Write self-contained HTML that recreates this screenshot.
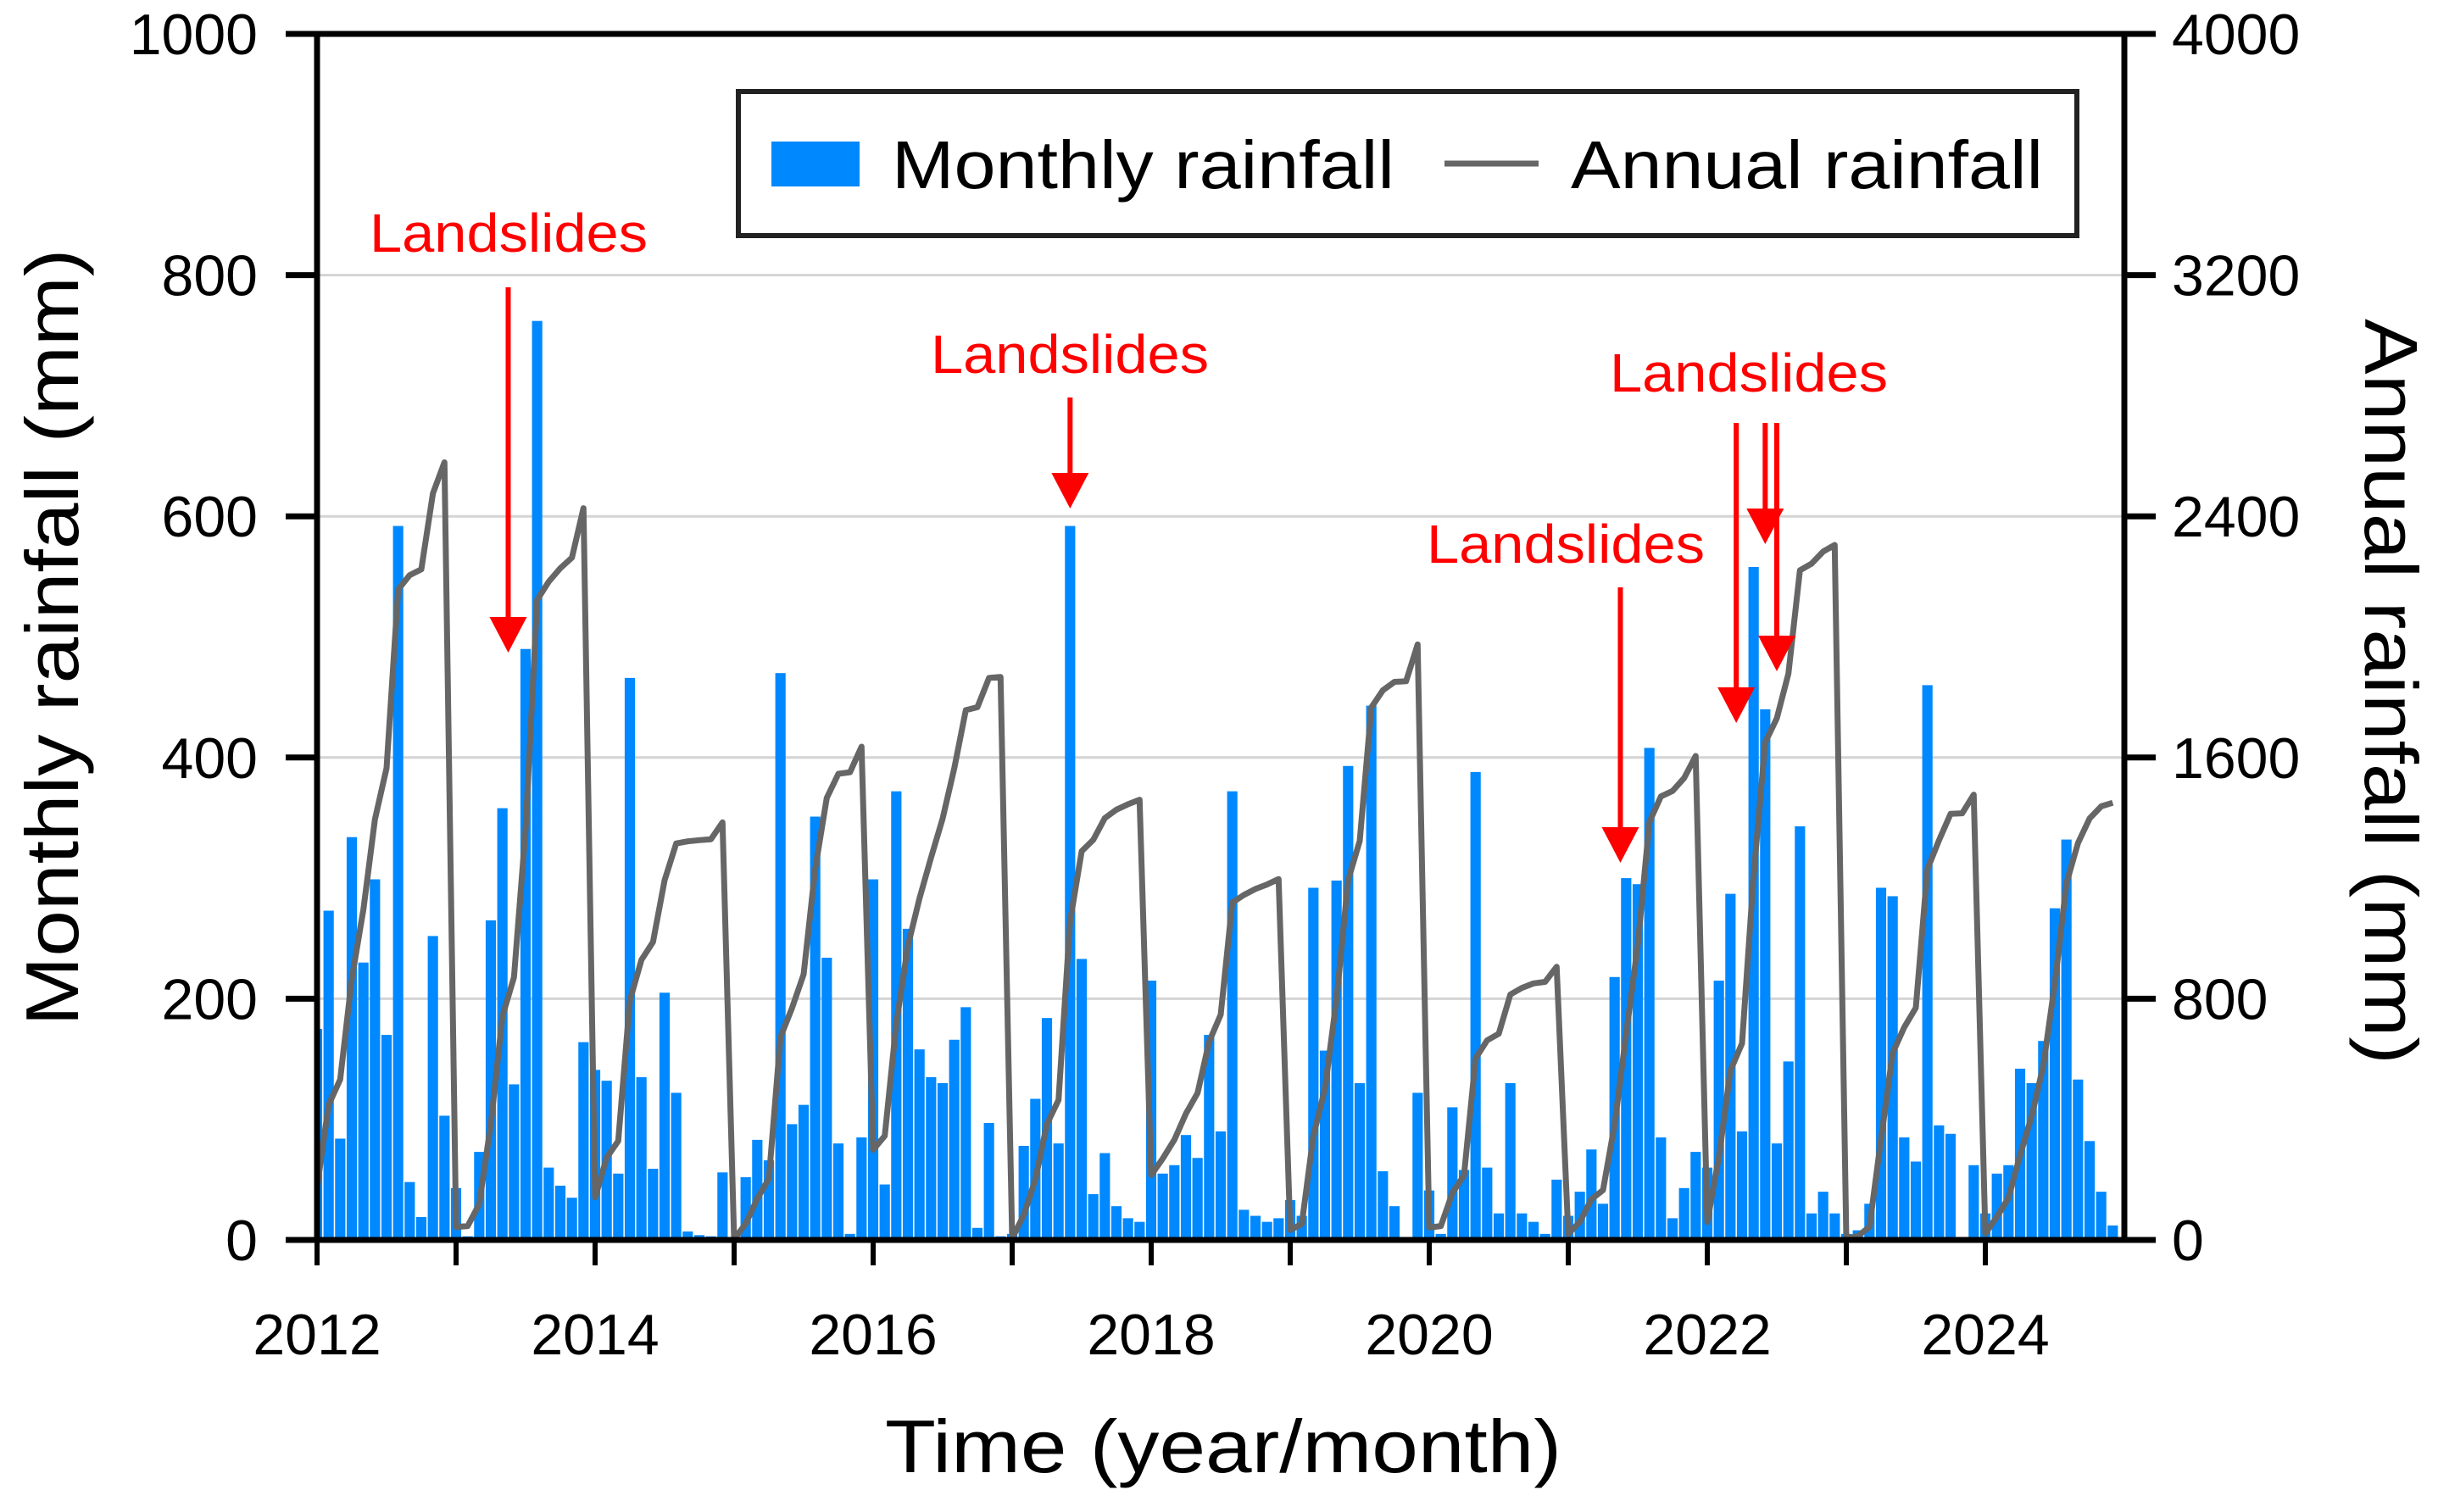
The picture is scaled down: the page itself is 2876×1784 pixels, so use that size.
<!DOCTYPE html>
<html><head><meta charset="utf-8"><style>
html,body{margin:0;padding:0;background:#fff;}
svg{display:block;font-family:"Liberation Sans",Arial,sans-serif;}
</style></head><body>
<svg id="chart" width="2876" height="1784" viewBox="0 0 2876 1784" xmlns="http://www.w3.org/2000/svg">
<g id="grid"></g>
<g id="bars"></g>
<path id="annual" fill="none" stroke="#666" stroke-width="7" stroke-linejoin="round"></path>
<g id="axes"></g>
<g id="legend">
<rect x="871" y="108" width="1579" height="170" fill="#fff" stroke="#222" stroke-width="6"/>
<rect x="910" y="167" width="104" height="53" fill="#0088ff"/>
<text x="1052" y="222" font-size="80" textLength="593" lengthAdjust="spacingAndGlyphs">Monthly rainfall</text>
<line x1="1704" y1="193" x2="1815" y2="193" stroke="#666" stroke-width="7"/>
<text x="1853" y="222" font-size="80" textLength="557" lengthAdjust="spacingAndGlyphs">Annual rainfall</text>
</g>
<g id="ann"></g>
<text transform="translate(92,752) rotate(-90)" text-anchor="middle" font-size="88" textLength="917" lengthAdjust="spacingAndGlyphs">Monthly rainfall (mm)</text>
<text transform="translate(2790,816) rotate(90)" text-anchor="middle" font-size="88" textLength="880" lengthAdjust="spacingAndGlyphs">Annual rainfall (mm)</text>
<text x="1443" y="1737" text-anchor="middle" font-size="88" textLength="798" lengthAdjust="spacingAndGlyphs">Time (year/month)</text>
</svg>
<script>
const monthly2012 = [175,273,84,334,230,299,170,592,48,19,252,103];
const monthly2013 = [43,3,73,265,358,129,490,762,60,45,35,164];
const monthly2014 = [141,132,55,466,135,59,205,122,7,4,3,56];
const monthly2015 = [2,52,83,66,470,96,112,351,234,80,5,85];
const monthly2016 = [299,46,372,258,158,135,130,166,193,10,97,3];
const monthly2017 = [5,78,117,184,80,592,233,38,72,28,18,15];
const monthly2018 = [215,55,62,87,68,170,90,372,25,20,15,18];
const monthly2019 = [33,20,292,157,298,393,130,443,57,28,2,122];
const monthly2020 = [41,5,110,58,388,60,22,130,22,15,5,50];
const monthly2021 = [20,40,75,30,218,300,295,408,85,18,43,73];
const monthly2022 = [60,215,287,90,558,440,80,148,343,22,40,22];
const monthly2023 = [5,8,30,292,285,85,65,460,95,88,2,62];
const monthly2024 = [22,55,62,142,130,165,275,332,133,82,40,12];
const years = [2012,2013,2014,2015,2016,2017,2018,2019,2020,2021,2022,2023,2024];
const leftTicks = [0,200,400,600,800,1000];
const rightTicks = [0,800,1600,2400,3200,4000];
const xTickLabels = [2012,2014,2016,2018,2020,2022,2024];
const landslideMonths = [16.5, 65, 112.5, 122.5, 125, 126];

const monthly = [].concat(monthly2012,monthly2013,monthly2014,monthly2015,monthly2016,monthly2017,monthly2018,monthly2019,monthly2020,monthly2021,monthly2022,monthly2023,monthly2024);
const NS="http://www.w3.org/2000/svg";
const X0=374,X1=2506,Y0=1463,Y1=40;
const nM=years.length*12;
const x=i=>X0+i*(X1-X0)/nM;
const y=v=>Y0-v*(Y0-Y1)/1000;
const yR=v=>Y0-v*(Y0-Y1)/4000;
function mk(tag,attrs,parent){const e=document.createElementNS(NS,tag);for(const k in attrs)e.setAttribute(k,attrs[k]);parent.appendChild(e);return e;}
const grid=document.getElementById('grid'),barsG=document.getElementById('bars'),axes=document.getElementById('axes'),ann=document.getElementById('ann');
leftTicks.forEach(t=>{if(t>0&&t<1000){const l=mk('line',{x1:X0,x2:X1,y1:y(t),y2:y(t),stroke:'#d4d4d4','stroke-width':3},grid);

}});
const bw=(X1-X0)/nM-1.5;
monthly.forEach((v,i)=>{let l=x(i)-bw/2,r=x(i)+bw/2;if(l<X0)l=X0;if(r>X1)r=X1;
const b=mk('rect',{x:l,y:y(v),width:r-l,height:Y0-y(v),fill:'#0088ff'},barsG);

});
let d='',cum=0;
monthly.forEach((v,i)=>{if(i%12===0)cum=0;cum+=v;d+=(i?'L':'M')+x(i).toFixed(1)+' '+yR(cum).toFixed(1);});
document.getElementById('annual').setAttribute('d',d);
mk('rect',{x:X0,y:Y1,width:X1-X0,height:Y0-Y1,fill:'none',stroke:'#000','stroke-width':7},axes);
leftTicks.forEach(t=>{mk('line',{x1:X0-37,x2:X0,y1:y(t),y2:y(t),stroke:'#000','stroke-width':7},axes);
const tx=mk('text',{x:X0-70,y:y(t)+24,'text-anchor':'end','font-size':68},axes);tx.textContent=t;

});
rightTicks.forEach(t=>{mk('line',{x1:X1,x2:X1+37,y1:yR(t),y2:yR(t),stroke:'#000','stroke-width':7},axes);
const tx=mk('text',{x:X1+56,y:yR(t)+24,'text-anchor':'start','font-size':68},axes);tx.textContent=t;

});
years.forEach((yr,k)=>{mk('line',{x1:x(k*12),x2:x(k*12),y1:Y0,y2:Y0+30,stroke:'#000','stroke-width':6},axes);});
xTickLabels.forEach(yr=>{const tx=mk('text',{x:x((yr-years[0])*12),y:1598,'text-anchor':'middle','font-size':68},axes);tx.textContent=yr;

});
const arrows=[{m:landslideMonths[0],top:339,tip:770},{m:landslideMonths[1],top:469,tip:600},{m:landslideMonths[2],top:693,tip:1018},{m:landslideMonths[3],top:499,tip:853},{m:landslideMonths[4],top:499,tip:642},{m:landslideMonths[5],top:499,tip:792}];
arrows.forEach(a=>{const ax=x(a.m);
mk('line',{x1:ax,x2:ax,y1:a.top,y2:a.tip-36,stroke:'#ff0000','stroke-width':6},ann);
const p=mk('polygon',{points:`${ax-22},${a.tip-42} ${ax+22},${a.tip-42} ${ax},${a.tip}`,fill:'#ff0000'},ann);

});
[[600,297],[1262,440],[2063,462],[1847,664]].forEach(([cx,by])=>{const t=mk('text',{x:cx,y:by,'text-anchor':'middle','font-size':64,fill:'#ff0000',textLength:328,lengthAdjust:'spacingAndGlyphs'},ann);t.textContent='Landslides';

});
</script>
</body></html>
